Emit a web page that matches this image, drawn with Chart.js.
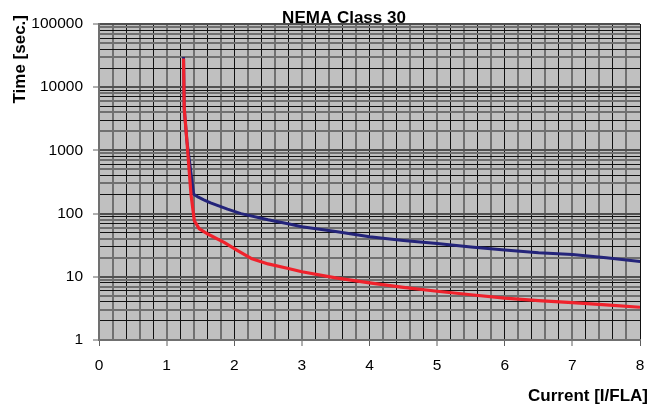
<!DOCTYPE html>
<html>
<head>
<meta charset="utf-8">
<title>NEMA Class 30</title>
<script src="https://cdn.jsdelivr.net/npm/chart.js@4.4.1/dist/chart.umd.min.js"></script>
<style>
  html, body { margin: 0; padding: 0; background: #fff; }
  #wrap { width: 666px; height: 408px; }
</style>
</head>
<body>
<div id="wrap"><canvas id="tripChart" width="666" height="408"></canvas></div>
<script>
// Trip curve data
const hotCurrent = [1.25, 1.26, 1.30, 1.40, 1.47, 1.55, 1.65, 1.75, 1.90, 2.10, 2.50, 2.83, 3.00, 3.50, 4.00, 4.50, 5.00, 5.50, 6.00, 6.50, 7.00, 7.50, 8.00]
const hotTime = [28500, 4650, 1400, 203, 182, 165, 148, 135, 118, 100, 80, 68, 62, 52, 43, 37.5, 33.5, 29.5, 26.5, 24, 22.5, 20, 17.5]

const coldCurrent = [1.25, 1.26, 1.30, 1.36, 1.41, 1.48, 1.60, 1.85, 2.05, 2.25, 2.50, 2.80, 3.00, 3.50, 4.00, 4.50, 5.00, 5.50, 6.00, 6.50, 7.00, 7.50, 8.00]
const coldTime = [28500, 4650, 1400, 203, 77, 58, 48, 35, 26, 19.5, 16, 13.5, 12, 9.6, 8, 6.8, 5.9, 5.2, 4.6, 4.2, 3.9, 3.6, 3.3]

// Axis ticks
const xTicks = [0, 0.2, 0.4, 0.6, 0.8, 1, 1.2, 1.4, 1.6, 1.8, 2, 2.2, 2.4, 2.6, 2.8, 3, 3.2, 3.4, 3.6, 3.8,
  4, 4.2, 4.4, 4.6, 4.8, 5, 5.2, 5.4, 5.6, 5.8, 6, 6.2, 6.4, 6.6, 6.8, 7, 7.2, 7.4, 7.6, 7.8, 8]
const yDecades = [1, 10, 100, 1000, 10000, 100000]
const yMultipliers = [1, 2, 3, 4, 5, 6, 7, 8, 9]

const FONT = "'Liberation Sans', Arial, sans-serif"

const toPoints = (xs, ys) => xs.map((x, i) => ({ x: x, y: ys[i] }))

const isDecade = (v) => yDecades.includes(v)
const isWhole = (v) => Math.abs(v - Math.round(v)) < 1e-6

// grey plot area like the old spreadsheet chart
const plotBackground = {
  id: "plotBackground",
  beforeDraw(chart) {
    const { ctx, chartArea } = chart
    ctx.save()
    ctx.fillStyle = "#c0c0c0"
    ctx.fillRect(chartArea.left, chartArea.top, chartArea.right - chartArea.left, chartArea.bottom - chartArea.top)
    ctx.restore()
  },
}

// chart + axis titles, placed where the spreadsheet put them
const chartTitles = {
  id: "chartTitles",
  afterDraw(chart) {
    const ctx = chart.ctx
    ctx.save()
    ctx.font = "bold 17px " + FONT
    ctx.fillStyle = "#000"

    ctx.textAlign = "center"
    ctx.textBaseline = "alphabetic"
    ctx.fillText("NEMA Class 30", 344, 23)

    ctx.textAlign = "right"
    ctx.fillText("Current [I/FLA]", 648, 401)

    ctx.translate(25, 15)
    ctx.rotate(-Math.PI / 2)
    ctx.textAlign = "right"
    ctx.fillText("Time [sec.]", 0, 0)
    ctx.restore()
  },
}

Chart.defaults.color = "#000"
Chart.defaults.font.family = FONT

new Chart(document.getElementById("tripChart"), {
  type: "line",
  data: {
    datasets: [
      {
        label: "Hot",
        data: toPoints(hotCurrent, hotTime),
        borderColor: "#24247a",
        borderWidth: 3,
        borderCapStyle: "square",
        borderJoinStyle: "round",
        pointRadius: 0,
        tension: 0,
        order: 2,
      },
      {
        label: "Cold",
        data: toPoints(coldCurrent, coldTime),
        borderColor: "#f0222c",
        borderWidth: 3.2,
        borderJoinStyle: "round",
        pointRadius: 0,
        tension: 0,
        order: 1,
      },
    ],
  },
  options: {
    responsive: false,
    animation: false,
    layout: { padding: { top: 24, right: 26, left: 0, bottom: 0 } },
    plugins: {
      legend: { display: false },
      title: { display: false },
      tooltip: { enabled: false },
    },
    scales: {
      x: {
        type: "linear",
        min: 0,
        max: 8,
        afterBuildTicks: (scale) => {
          scale.ticks = xTicks.map((v) => ({ value: v }))
        },
        afterFit: (scale) => {
          scale.height = 68
        },
        ticks: {
          autoSkip: false,
          maxRotation: 0,
          padding: 10,
          font: { size: 15.5 },
          callback: (value) => (isWhole(value) ? String(Math.round(value)) : ""),
        },
        grid: {
          color: (ctx) => (ctx.index % 2 === 0 ? "#111111" : "#707070"),
          lineWidth: (ctx) => (ctx.index % 2 === 0 ? 1 : 2),
          tickLength: 6,
          tickColor: (ctx) => (ctx.tick && isWhole(ctx.tick.value) ? "#606060" : "rgba(0,0,0,0)"),
          tickWidth: 1,
        },
        border: { color: "#707070", width: 2 },
        title: { display: false },
      },
      y: {
        type: "logarithmic",
        min: 1,
        max: 100000,
        afterBuildTicks: (scale) => {
          const ticks = []
          yDecades.forEach((d) => {
            if (d === 100000) {
              ticks.push({ value: d })
              return
            }
            yMultipliers.forEach((m) => ticks.push({ value: d * m }))
          })
          scale.ticks = ticks
        },
        afterFit: (scale) => {
          scale.width = 99
        },
        ticks: {
          autoSkip: false,
          padding: 10,
          font: { size: 15.5 },
          callback: (value) => (isDecade(value) ? String(value) : ""),
        },
        grid: {
          color: (ctx) => {
            if (!ctx.tick) return "#111111"
            if (isDecade(ctx.tick.value)) return "#505050"
            return ctx.index % 2 === 0 ? "#707070" : "#111111"
          },
          lineWidth: (ctx) => {
            if (!ctx.tick) return 1
            if (isDecade(ctx.tick.value)) return 2
            return ctx.index % 2 === 0 ? 2 : 1
          },
          tickLength: 6,
          tickColor: (ctx) => (ctx.tick && isDecade(ctx.tick.value) ? "#606060" : "rgba(0,0,0,0)"),
          tickWidth: 1,
        },
        border: { color: "#707070", width: 2 },
        title: { display: false },
      },
    },
  },
  plugins: [plotBackground, chartTitles],
})
</script>
</body>
</html>
